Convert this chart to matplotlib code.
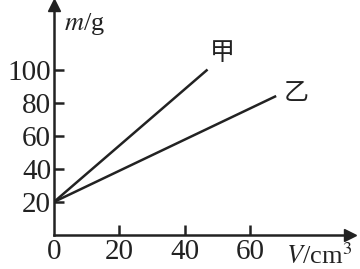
import matplotlib
matplotlib.use("Agg")
import matplotlib.pyplot as plt

# Data
V_jia = [0, 47]
m_jia = [20, 100]
V_yi = [0, 68]
m_yi = [20, 84]
x_ticks = [0, 20, 40, 60]
y_ticks = [20, 40, 60, 80, 100]
labels = ["甲", "乙"]

plt.rcParams['font.family'] = ['Liberation Serif', 'Noto Sans CJK SC']
plt.rcParams['mathtext.fontset'] = 'stix'

fig = plt.figure(figsize=(3.6, 2.69), dpi=100)
ax = fig.add_axes([54/360, 34/269, 296/360, 230/269])
ax.set_xlim(0, 90.6)
ax.set_ylim(0, 139)

for s in ['top', 'right']:
    ax.spines[s].set_visible(False)
for s in ['left', 'bottom']:
    ax.spines[s].set_linewidth(1.8)
    ax.spines[s].set_color('#222222')

ax.plot(V_jia, m_jia, color='#222222', lw=1.8, solid_capstyle='butt')
ax.plot(V_yi, m_yi, color='#222222', lw=1.8, solid_capstyle='butt')

ax.set_xticks(x_ticks)
ax.set_xticklabels([str(t) for t in x_ticks])
ax.set_yticks(y_ticks)
ax.set_yticklabels([str(t) for t in y_ticks])
ax.tick_params(direction='in', length=7, width=1.8, colors='#222222',
               labelsize=21, pad=2)
ax.tick_params(axis='x', pad=3)
# hide x tick mark at 0
ax.xaxis.get_major_ticks()[0].tick1line.set_visible(False)

# arrow heads
ax.plot(1, 0, marker='>', color='#222222', markersize=8,
        transform=ax.get_yaxis_transform(), clip_on=False)
ax.plot(0, 1, marker='^', color='#222222', markersize=8,
        transform=ax.get_xaxis_transform(), clip_on=False)

# axis labels
fig.text(64/360, 1 - 24/269, r'$m$/g', fontsize=19, va='center', ha='left',
         color='#222222')
fig.text(286/360, 1 - 256/269, r'$V$/cm$^3$', fontsize=19, va='center',
         ha='left', color='#222222')

# series labels
ax.text(V_jia[1] + 4.5, m_jia[1] + 10, labels[0], fontsize=18,
        family=['Noto Sans CJK SC'], ha='center', va='center', color='#222222')
ax.text(V_yi[1] + 6, m_yi[1] + 2, labels[1], fontsize=18,
        family=['Noto Sans CJK SC'], ha='center', va='center', color='#222222')

fig.savefig('out.png', dpi=100)
